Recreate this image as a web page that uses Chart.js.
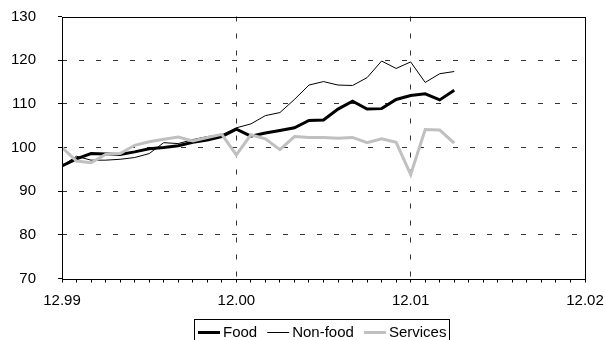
<!DOCTYPE html>
<html>
<head>
<meta charset="utf-8">
<script src="https://cdn.jsdelivr.net/npm/chart.js@4.4.1/dist/chart.umd.min.js"></script>
<style>
  html, body { margin: 0; padding: 0; background: #fff; }
  #wrap { width: 605px; height: 340px; }
</style>
</head>
<body>
<div id="wrap"><canvas id="c" width="605" height="340"></canvas></div>
<script>
// Monthly observations, December 1999 to March 2002
const months = ['12.99','01.00','02.00','03.00','04.00','05.00','06.00','07.00','08.00','09.00','10.00','11.00',
                '12.00','01.01','02.01','03.01','04.01','05.01','06.01','07.01','08.01','09.01','10.01','11.01',
                '12.01','01.02','02.02','03.02'];
const food = [95.8, 97.4, 98.6, 98.5, 98.4, 99.0, 99.7, 100.0, 100.4, 101.2, 101.7, 102.5,
              104.2, 102.6, 103.3, 103.9, 104.5, 106.2, 106.3, 108.8, 110.6, 108.8, 108.9, 111.0,
              111.9, 112.3, 110.9, 113.1];
const nonFood = [95.8, 98.0, 97.1, 97.1, 97.3, 97.7, 98.6, 101.1, 100.9, 101.8, 102.5, 102.9,
                 104.5, 105.4, 107.3, 108.0, 111.0, 114.3, 115.1, 114.3, 114.2, 116.0, 119.8, 118.1,
                 119.6, 114.9, 116.9, 117.4];
const services = [100.0, 96.9, 96.5, 98.4, 98.6, 100.5, 101.3, 101.9, 102.4, 101.5, 102.3, 103.0,
                  98.3, 102.9, 102.0, 99.5, 102.5, 102.3, 102.3, 102.1, 102.3, 101.1, 102.0, 101.2,
                  93.8, 104.1, 104.0, 101.0];
// Axis labels at each December
const yearTicks = ['12.99', '12.00', '12.01', '12.02'];
const monthsOnAxis = 36;

const FONT = '"Liberation Sans", Arial, sans-serif';

function toPoints(values) {
  return values.map((v, i) => ({ x: months.indexOf(months[i]), y: v }));
}

// Plot frame drawn around the chart area
const frame = {
  id: 'frame',
  afterDatasetsDraw(chart) {
    const { ctx, chartArea: a } = chart;
    ctx.save();
    ctx.strokeStyle = '#000';
    ctx.lineWidth = 1;
    ctx.strokeRect(Math.round(a.left) + 0.5, Math.round(a.top) + 0.5,
                   Math.round(a.right) - Math.round(a.left), Math.round(a.bottom) - Math.round(a.top));
    ctx.restore();
  }
};

// Boxed legend with line samples under the axis
const boxedLegend = {
  id: 'boxedLegend',
  afterDraw(chart) {
    const { ctx, chartArea: a } = chart;
    ctx.save();
    ctx.font = '15px ' + FONT;
    const lineLen = 22, textGap = 3, itemGap = 10, padL = 3.5, padR = 3;
    const items = chart.data.datasets.map(ds => ({
      label: ds.label, color: ds.borderColor, width: ds.borderWidth, tw: ctx.measureText(ds.label).width
    }));
    let total = padL + padR;
    items.forEach((it, i) => { total += lineLen + textGap + it.tw + (i < items.length - 1 ? itemGap : 0); });
    const cx = (a.left + a.right) / 2 - 2;
    const left = Math.round(cx - total / 2) + 0.5;
    const top = Math.round(a.bottom) + 40.5;
    ctx.strokeStyle = '#000';
    ctx.lineWidth = 1;
    ctx.strokeRect(left, top, Math.round(total), 40);
    let x = left + padL;
    const y = top + 13;
    ctx.textBaseline = 'middle';
    ctx.textAlign = 'left';
    items.forEach(it => {
      ctx.beginPath();
      ctx.strokeStyle = it.color;
      ctx.lineWidth = it.width;
      ctx.moveTo(x, y);
      ctx.lineTo(x + lineLen, y);
      ctx.stroke();
      ctx.fillStyle = '#000';
      ctx.fillText(it.label, x + lineLen + textGap, y);
      x += lineLen + textGap + it.tw + itemGap;
    });
    ctx.restore();
  }
};

new Chart(document.getElementById('c'), {
  type: 'line',
  data: {
    datasets: [
      { label: 'Food', data: toPoints(food), borderColor: '#000000', borderWidth: 3, order: 1 },
      { label: 'Non-food', data: toPoints(nonFood), borderColor: '#000000', borderWidth: 1, order: 2 },
      { label: 'Services', data: toPoints(services), borderColor: '#c0c0c0', borderWidth: 3, order: 0 }
    ]
  },
  options: {
    responsive: false,
    animation: false,
    devicePixelRatio: 1,
    layout: { padding: 0 },
    elements: {
      point: { radius: 0, hoverRadius: 0 },
      line: { tension: 0, borderJoinStyle: 'miter', borderCapStyle: 'butt', fill: false }
    },
    plugins: { legend: { display: false }, tooltip: { enabled: false } },
    scales: {
      x: {
        type: 'linear',
        min: 0,
        max: monthsOnAxis,
        afterFit(scale) {
          scale.height = 61.5;
          scale.paddingLeft = 0;
          scale.paddingRight = 20;
        },
        border: { display: false, dash: [5, 12] },
        grid: {
          drawOnChartArea: true,
          drawTicks: true,
          tickLength: 4,
          lineWidth: 1,
          borderDash: [5, 12],
          tickBorderDash: [],
          color: c => (c.tick && c.tick.value % 12 === 0 && c.tick.value > 0 && c.tick.value < monthsOnAxis) ? '#333' : 'rgba(0,0,0,0)',
          tickColor: '#000'
        },
        ticks: {
          stepSize: 1,
          autoSkip: false,
          maxRotation: 0,
          padding: 9,
          color: '#000',
          font: { family: FONT, size: 15 },
          callback: v => (v % 12 === 0 ? yearTicks[v / 12] : '')
        }
      },
      y: {
        min: 70,
        max: 130,
        afterFit(scale) {
          scale.width = 62;
          scale.paddingTop = 16.5;
          scale.paddingBottom = 0;
        },
        border: { display: false, dash: [5, 12] },
        grid: {
          drawOnChartArea: true,
          drawTicks: true,
          tickLength: 4,
          lineWidth: 1,
          borderDash: [5, 12],
          tickBorderDash: [],
          color: c => (c.tick && c.tick.value > 70 && c.tick.value < 130) ? '#333' : 'rgba(0,0,0,0)',
          tickColor: '#000'
        },
        ticks: {
          stepSize: 10,
          padding: 22,
          color: '#000',
          font: { family: FONT, size: 15 }
        }
      }
    }
  },
  plugins: [frame, boxedLegend]
});
</script>
</body>
</html>
